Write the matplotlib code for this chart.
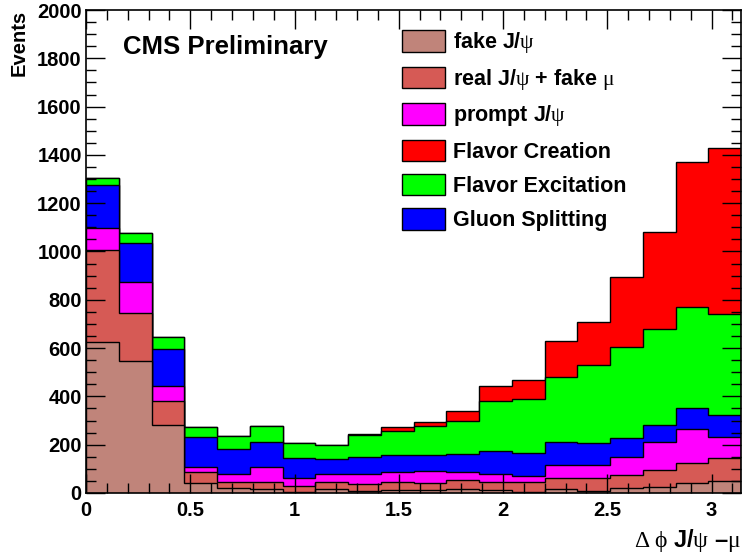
import numpy as np
import matplotlib
matplotlib.use("Agg")
import matplotlib.pyplot as plt
from matplotlib.ticker import MultipleLocator

plt.rcParams["font.family"] = ["Liberation Sans", "DejaVu Sans"]
plt.rcParams["font.weight"] = "bold"
plt.rcParams["mathtext.fontset"] = "custom"
plt.rcParams["mathtext.rm"] = "Liberation Serif:weight=normal"
plt.rcParams["mathtext.it"] = "Liberation Serif:weight=normal"
plt.rcParams["mathtext.bf"] = "Liberation Serif:weight=normal"

# 20 bins in delta phi, 0 .. pi
n_bins = 20
x_min, x_max = 0.0, np.pi

# stacked components, bottom to top
fake_jpsi = [626, 546, 282, 40, 19, 18, 3, 18, 8, 14, 11, 17, 14, 5, 15, 10, 19, 26, 43, 51]
real_jpsi_fake_mu = [379, 198, 98, 47, 28, 28, 27, 28, 28, 30, 30, 37, 33, 42, 47, 53, 54, 69, 83, 93]
prompt_jpsi = [93, 128, 63, 22, 32, 63, 33, 31, 41, 44, 51, 32, 33, 25, 53, 53, 75, 117, 138, 87]
gluon_splitting = [177, 162, 152, 124, 103, 101, 81, 65, 72, 71, 64, 75, 94, 94, 95, 92, 81, 70, 87, 92]
flavor_excitation = [30, 44, 52, 39, 55, 68, 64, 58, 93, 98, 123, 138, 207, 223, 272, 322, 377, 396, 418, 417]
flavor_creation = [0, 0, 0, 0, 0, 0, 0, 0, 3, 15, 16, 40, 62, 79, 148, 179, 290, 404, 600, 690]

stack = [
    (fake_jpsi, "#c0847a", r"fake J/$\psi$"),
    (real_jpsi_fake_mu, "#d65a55", r"real J/$\psi$ + fake $\mu$"),
    (prompt_jpsi, "#ff00ff", r"prompt J/$\psi$"),
    (gluon_splitting, "#0000ff", "Gluon Splitting"),
    (flavor_excitation, "#00ff00", "Flavor Excitation"),
    (flavor_creation, "#ff0000", "Flavor Creation"),
]
legend_order = [0, 1, 2, 5, 4, 3]

edges = np.linspace(x_min, x_max, n_bins + 1)

fig = plt.figure(figsize=(7.44, 5.57), dpi=100)
ax = fig.add_axes([0.1156, 0.115, 0.8804, 0.867])

# cumulative sums, draw from the top down so every layer keeps its outline
cums = np.cumsum([np.array(s[0], dtype=float) for s in stack], axis=0)
handles = [None] * len(stack)
for i in reversed(range(len(stack))):
    _, col, lab = stack[i]
    handles[i] = ax.stairs(cums[i], edges, baseline=0, fill=True,
                           facecolor=col, edgecolor="black", linewidth=1.0,
                           label=lab)

ax.set_xlim(x_min, x_max)
ax.set_ylim(0, 2000)

ax.xaxis.set_major_locator(MultipleLocator(0.5))
ax.xaxis.set_minor_locator(MultipleLocator(0.1))
ax.yaxis.set_major_locator(MultipleLocator(200))
ax.yaxis.set_minor_locator(MultipleLocator(50))
ax.tick_params(which="both", direction="in", top=True, right=True, width=1.0)
ax.tick_params(which="major", length=14)
ax.tick_params(which="minor", length=7)
ax.tick_params(axis="x", which="major", labelsize=14.5, pad=6)
ax.tick_params(axis="y", which="major", labelsize=14.5, pad=3)
ax.xaxis.set_major_formatter(plt.FuncFormatter(lambda v, p: f"{v:g}"))
for sp in ax.spines.values():
    sp.set_linewidth(1.2)

ax.text(0.0565, 0.924, "CMS Preliminary", transform=ax.transAxes,
        fontsize=18.5, fontweight="bold", va="center", ha="left")

leg = ax.legend([handles[i] for i in legend_order],
                [stack[i][2] for i in legend_order],
                loc="upper left", bbox_to_anchor=(0.482, 0.958),
                frameon=False, fontsize=15.5, borderpad=0, borderaxespad=0,
                handlelength=2.0, handleheight=1.15, handletextpad=0.4,
                labelspacing=0.53)

fig.text(0.026, 0.982, "Events", rotation=90, ha="center", va="top",
         fontsize=14.5, fontweight="bold")
fig.text(0.996, 0.03, "$\\Delta\\;\\phi$ J/$\\psi$ \u2013$\\mu$", ha="right", va="center",
         fontsize=17, fontweight="bold")

fig.savefig("out.png", dpi=100)
